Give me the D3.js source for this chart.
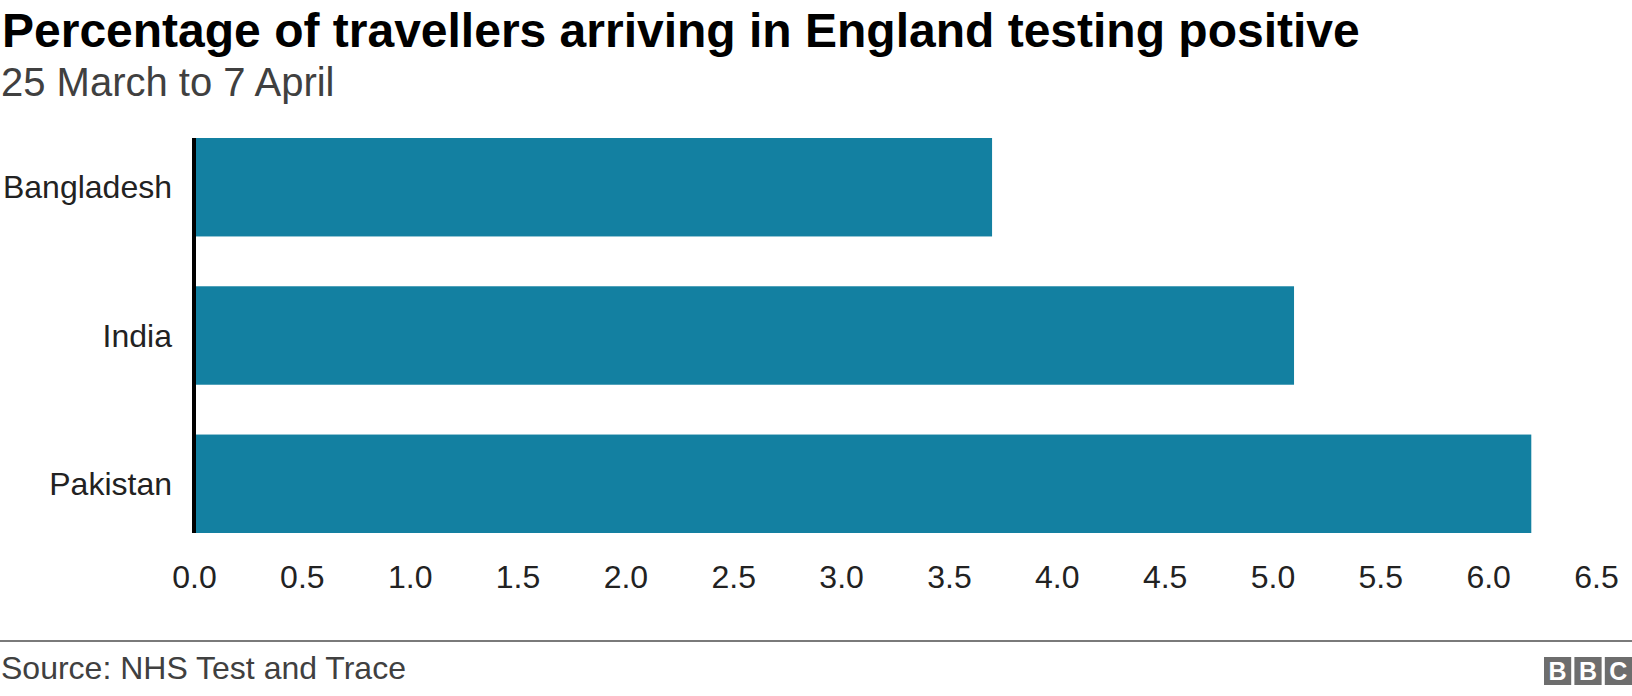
<!DOCTYPE html>
<html>
<head>
<meta charset="utf-8">
<script src="https://cdn.jsdelivr.net/npm/d3@7"></script>
<style>
  html, body { margin: 0; padding: 0; background: #fff; }
  svg { display: block; font-family: "Liberation Sans", Arial, Helvetica, sans-serif; }
</style>
</head>
<body>
<svg id="chart" width="1632" height="696"></svg>
<script>
const categories = ["Bangladesh", "India", "Pakistan"];
const values = [3.7, 5.1, 6.2];
const tickValues = [0, 0.5, 1, 1.5, 2, 2.5, 3, 3.5, 4, 4.5, 5, 5.5, 6, 6.5];
const titleText = "Percentage of travellers arriving in England testing positive";
const subtitleText = "25 March to 7 April";
const sourceText = "Source: NHS Test and Trace";

const data = categories.map((c, i) => ({ category: c, value: values[i] }));

const svg = d3.select("#chart");
const W = 1632, H = 696;

const x = d3.scaleLinear().domain([0, 6.5]).range([194, 1596]);
const y = d3.scaleBand().domain(categories).range([138, 533]).paddingInner(0.336).paddingOuter(0);

// Title and subtitle
svg.append("text").attr("x", 2).attr("y", 47)
  .attr("font-size", 48).attr("font-weight", "bold").attr("fill", "#000")
  .text(titleText);
svg.append("text").attr("x", 1).attr("y", 96)
  .attr("font-size", 40).attr("fill", "#404040")
  .text(subtitleText);

// Bars
svg.append("g").selectAll("rect").data(data).join("rect")
  .attr("x", x(0))
  .attr("y", d => y(d.category))
  .attr("width", d => x(d.value) - x(0))
  .attr("height", y.bandwidth())
  .attr("fill", "#1380a1");

// Category labels
svg.append("g").selectAll("text").data(data).join("text")
  .attr("x", 172)
  .attr("y", d => y(d.category) + y.bandwidth() / 2)
  .attr("dy", "0.35em")
  .attr("text-anchor", "end")
  .attr("font-size", 32).attr("fill", "#222")
  .text(d => d.category);

// Vertical axis line
svg.append("line")
  .attr("x1", x(0)).attr("x2", x(0))
  .attr("y1", y.range()[0]).attr("y2", y.range()[1])
  .attr("stroke", "#000").attr("stroke-width", 4);

// X axis
const xAxis = d3.axisBottom(x).tickValues(tickValues).tickFormat(d3.format(".1f")).tickSize(0).tickPadding(0);
const gx = svg.append("g").attr("transform", "translate(0,565)").call(xAxis);
gx.select(".domain").remove();
gx.selectAll("text")
  .attr("font-family", "Liberation Sans, Arial, sans-serif")
  .attr("font-size", 32).attr("fill", "#222")
  .attr("dy", "0.71em");

// Footer line
svg.append("line").attr("x1", 0).attr("x2", W).attr("y1", 641).attr("y2", 641)
  .attr("stroke", "#7a7a7a").attr("stroke-width", 2);

svg.append("text").attr("x", 1).attr("y", 679)
  .attr("font-size", 32).attr("fill", "#404040")
  .text(sourceText);

// BBC logo
const logo = svg.append("g");
["B", "B", "C"].forEach((ch, i) => {
  const bx = 1544 + i * 30.4;
  logo.append("rect").attr("x", bx).attr("y", 657).attr("width", 27.2).attr("height", 28).attr("fill", "#6d6d6d");
  logo.append("text").attr("x", bx + 13.6).attr("y", 671).attr("dy", "0.36em")
    .attr("text-anchor", "middle").attr("font-size", 25).attr("font-weight", "bold").attr("fill", "#fff")
    .text(ch);
});
</script>
</body>
</html>
